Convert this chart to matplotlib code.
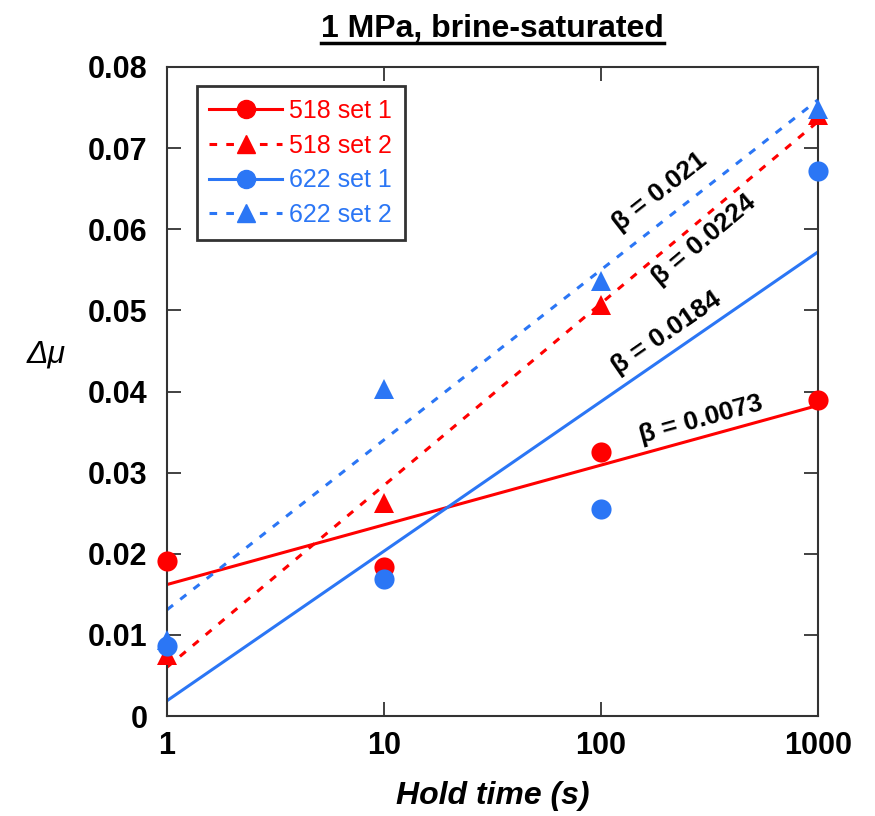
import numpy as np
import matplotlib.pyplot as plt
from matplotlib.lines import Line2D

# hold times (s)
hold_time = [1, 10, 100, 1000]

# friction healing values
s518_set1 = [0.0191, 0.0184, 0.0326, 0.0389]
s518_set2 = [0.0075, 0.0263, 0.0507, 0.0741]
s622_set1 = [0.0086, 0.0169, 0.0255, 0.0672]
s622_set2 = [0.0094, 0.0403, 0.0536, 0.0748]

labels = ['518 set 1', '518 set 2', '622 set 1', '622 set 2']
beta_labels = ['0.0073', '0.0224', '0.0184', '0.021']
# where each beta label sits (data coords)
beta_pos = [(289, 0.0366), (297, 0.0587), (201, 0.0472), (187, 0.0646)]

y_ticks = [0, 0.01, 0.02, 0.03, 0.04, 0.05, 0.06, 0.07, 0.08]
x_ticks = [1, 10, 100, 1000]

RED = '#FF0000'
BLUE = '#2B76F5'

plt.rcParams['font.family'] = ['Liberation Sans', 'DejaVu Sans']

fig = plt.figure(figsize=(8.75, 8.16), dpi=100)
ax = fig.add_axes([0.1909, 0.1225, 0.744, 0.7954])

series = [s518_set1, s518_set2, s622_set1, s622_set2]
colors = [RED, RED, BLUE, BLUE]
markers = ['o', '^', 'o', '^']
styles = ['-', '--', '-', '--']
lws = [2.2, 2.2, 2.2, 2.2]

logx = np.log10(hold_time)
x_fit = np.array([1, 1000])
for y, c, m, ls, lw in zip(series, colors, markers, styles, lws):
    # log-linear fit, drawn from 1 to 1000 s
    b, a = np.polyfit(logx, y, 1)
    ax.plot(x_fit, a + b * np.log10(x_fit), color=c, ls=ls, lw=lw,
            dashes=(2.5, 3) if ls == '--' else (None, None))
    ax.plot(hold_time, y, ls='none', marker=m, color=c,
            markersize=15 if m == '^' else 14.5,
            markeredgewidth=0, clip_on=False, zorder=5)

ax.set_xscale('log')
ax.set_xlim(1, 1000)
ax.set_ylim(0, 0.08)
ax.set_xticks(x_ticks)
ax.set_xticklabels([str(t) for t in x_ticks])
ax.set_yticks(y_ticks)
ax.set_yticklabels(['0' if t == 0 else f'{t:.2f}' for t in y_ticks])
ax.minorticks_off()
ax.tick_params(direction='in', length=10, width=1.3, top=True, right=True,
               labelsize=22, color='#333333')
ax.tick_params(axis='y', pad=14)
ax.tick_params(axis='x', pad=11)
for lab in ax.get_xticklabels() + ax.get_yticklabels():
    lab.set_fontweight('bold')
for sp in ax.spines.values():
    sp.set_linewidth(1.5)
    sp.set_color('#333333')

ax.set_xlabel('Hold time (s)', fontsize=23, fontweight='bold', style='italic', labelpad=14)
fig.text(0.053, 0.565, 'Δμ', fontsize=23, style='italic', ha='center', va='center')

# beta annotations, rotated along each fit line
fig.canvas.draw()
for y, lab, (tx, ty) in zip(series, beta_labels, beta_pos):
    b, a = np.polyfit(logx, y, 1)
    p0 = ax.transData.transform((1, a))
    p1 = ax.transData.transform((1000, a + 3 * b))
    ang = np.degrees(np.arctan2(p1[1] - p0[1], p1[0] - p0[0]))
    ax.text(tx, ty, f'β = {lab}', rotation=ang, rotation_mode='anchor',
            ha='center', va='center', fontsize=19, fontweight='bold')

handles = [Line2D([], [], color=c, ls=ls, lw=lw, marker=m, markersize=13,
                  dashes=(2.5, 3) if ls == '--' else (None, None))
           for c, m, ls, lw in zip(colors, markers, styles, lws)]
leg = ax.legend(handles, labels, loc='upper left', bbox_to_anchor=(0.046, 0.97),
                fontsize=18, frameon=True, fancybox=False, handlelength=2.9,
                handletextpad=0.3, labelspacing=0.43, borderpad=0.5,
                borderaxespad=0)
leg.get_frame().set_edgecolor('black')
leg.get_frame().set_linewidth(2)
for t, c in zip(leg.get_texts(), colors):
    t.set_color(c)

# underlined title
title = fig.text(0.563, 0.964, '1 MPa, brine-saturated', fontsize=23,
                 fontweight='bold', ha='center', va='center')
fig.canvas.draw()
bb = title.get_window_extent().transformed(fig.transFigure.inverted())
fig.add_artist(Line2D([bb.x0, bb.x1], [bb.y0 + 0.002, bb.y0 + 0.002],
                      color='black', lw=2.5))

fig.savefig('out.png', dpi=100)
